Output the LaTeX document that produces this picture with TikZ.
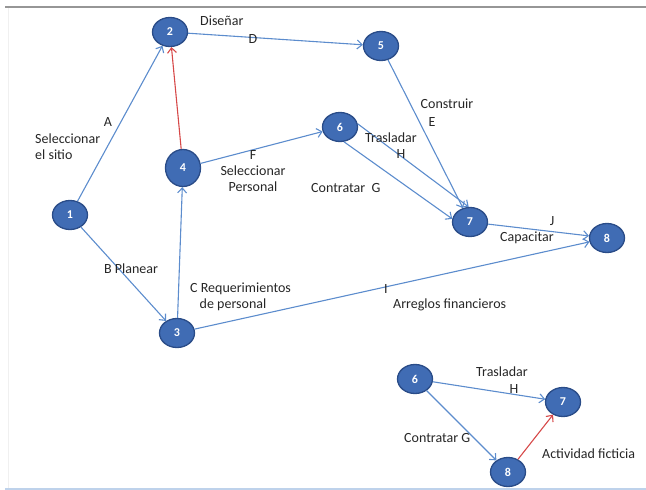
\documentclass[tikz,border=0pt]{standalone}
\usepackage{fontspec}
\setmainfont{Carlito}
\usetikzlibrary{shapes.geometric,arrows.meta}
\definecolor{nodefill}{RGB}{64,108,180}
\definecolor{nodeborder}{RGB}{42,76,136}
\definecolor{edgeblue}{RGB}{92,140,205}
\definecolor{edgered}{RGB}{214,72,72}
\definecolor{topline}{RGB}{150,150,150}
\definecolor{botline}{RGB}{190,210,235}
\begin{document}
\begin{tikzpicture}[x=1pt,y=-1pt,
  ev/.style={ellipse, draw=nodeborder, line width=1.3pt, fill=nodefill, text=white,
    font=\fontsize{12}{14}\selectfont\bfseries, minimum width=35pt, minimum height=29pt, inner sep=0pt},
  big/.style={minimum width=35pt, minimum height=37pt},
  act/.style={draw=edgeblue, line width=1.1pt, -{Straight Barb[length=5pt,width=9pt]}},
  dummy/.style={draw=edgered, line width=1.1pt, -{Straight Barb[length=5pt,width=9pt]}},
  lbl/.style={font=\fontsize{14}{16}\selectfont, text=black!85, inner sep=0pt, anchor=west},
  clbl/.style={font=\fontsize{14}{16}\selectfont, text=black!85, inner sep=0pt, align=center}
]
\useasboundingbox (0,0) rectangle (646,490);
% frame lines
\draw[topline, line width=2pt] (5,7) -- (646,7);
\draw[black!6, line width=1pt] (8,8) -- (8,488);
\draw[botline, line width=1.5pt] (5,489) -- (646,489);

% main network
\node[ev] (n1) at (70,215) {1};
\node[ev] (n2) at (170,32) {2};
\node[ev] (n3) at (177,333) {3};
\node[ev,big] (n4) at (183,168) {4};
\node[ev] (n5) at (381,46) {5};
\node[ev] (n6) at (340,127) {6};
\node[ev] (n7) at (470,222) {7};
\node[ev] (n8) at (607,238) {8};

\draw[act] (n1) -- (n2);
\draw[act] (n1) -- (n3);
\draw[act] (n3) -- (n4);
\draw[dummy] (n4) -- (n2);
\draw[act] (n2) -- (n5);
\draw[act] (n4) -- (n6);
\draw[act] (n5) -- (n7);
\draw[act] (n6.10) -- (n7.95);
\draw[act] (n6.-75) -- (n7.170);
\draw[act] (n7) -- (n8);
\draw[act] (n3) -- (n8);

% labels
\node[lbl] (tdis) at (200,21) {Diseñar};
\node[clbl] (td) at (253,39) {D};
\node[clbl] (ta) at (108,122) {A};
\node[lbl, align=left] (tsel) at (35,147) {Seleccionar\\el sitio};
\node[clbl] (tf) at (253,171) {F\\Seleccionar\\Personal};
\node[clbl] (tcon) at (447,104) {Construir};
\node[clbl] (te) at (432,122) {E};
\node[lbl] (ttra) at (365,138) {Trasladar};
\node[clbl] (th) at (401,154) {H};
\node[lbl] (tcg) at (311,188) {Contratar\ \ G};
\node[clbl] (tj) at (552,221) {J};
\node[lbl] (tcap) at (500,238) {Capacitar};
\node[lbl] (tb) at (104,269) {B\ Planear};
\node[lbl, align=left] (tc) at (190,297) {C Requerimientos\\\ \ \ de personal};
\node[clbl] (ti) at (386,289) {I};
\node[lbl] (tarr) at (393,305) {Arreglos financieros};

% lower network
\node[ev] (m6) at (415,379) {6};
\node[ev] (m7) at (563,402) {7};
\node[ev] (m8) at (508,472) {8};
\draw[act] (m6) -- (m7);
\draw[act] (m6) -- (m8);
\draw[dummy] (m8) -- (m7);
\node[lbl] (btra) at (476,372) {Trasladar};
\node[clbl] (bh) at (514,389) {H};
\node[lbl] (bcg) at (404,438) {Contratar G};
\node[lbl] (bact) at (542,454) {Actividad ficticia};
\end{tikzpicture}
\end{document}
